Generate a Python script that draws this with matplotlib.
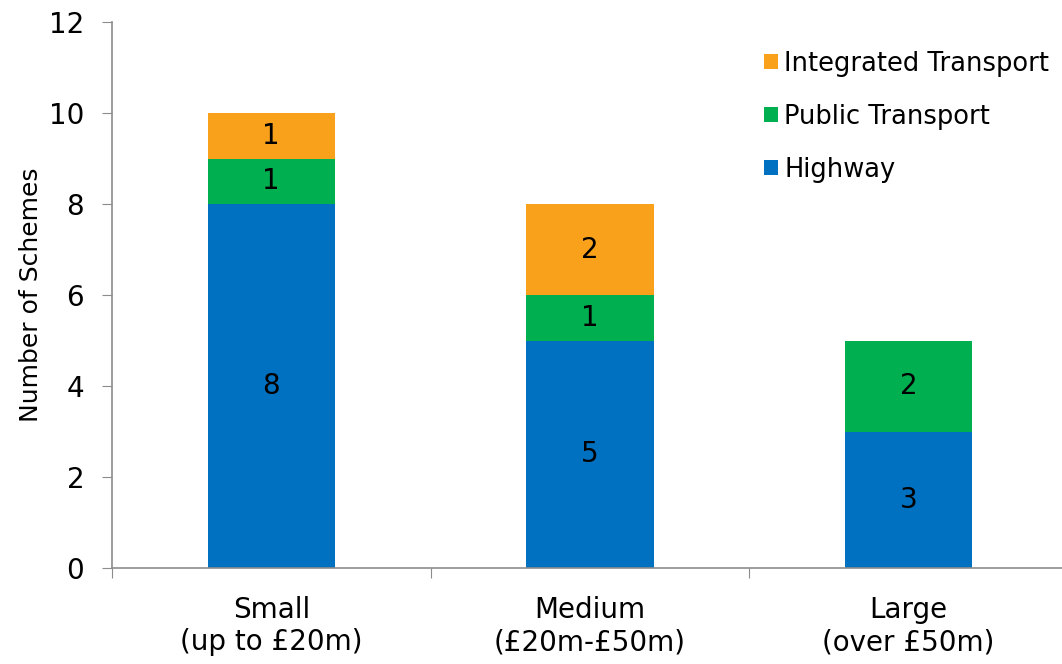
#!/usr/bin/env python3
"""Stacked bar chart: number of schemes by size band and type."""
import numpy as np
import matplotlib.pyplot as plt

OUT_PNG = "out.png"

CATEGORIES = ["Small\n(up to £20m)", "Medium\n(£20m-£50m)", "Large\n(over £50m)"]
HIGHWAY = [8, 5, 3]
PUBLIC = [1, 1, 2]
INTEGRATED = [1, 2, 0]

COLORS = {"Highway": "#0070C0", "Public Transport": "#00B050",
          "Integrated Transport": "#F9A11B"}
GRAY = "#8C8C8C"


def main():
    plt.rcParams["font.family"] = ["DejaVu Sans"]
    fig = plt.figure(figsize=(10.62, 6.64), dpi=100)
    ax = fig.add_axes([112 / 1062, 96 / 664, 0.9, 546 / 664])

    x = np.arange(len(CATEGORIES))
    w = 0.4
    hw = np.array(HIGHWAY)
    pt = np.array(PUBLIC)
    it = np.array(INTEGRATED)

    b1 = ax.bar(x, hw, w, color=COLORS["Highway"], label="Highway")
    b2 = ax.bar(x, pt, w, bottom=hw, color=COLORS["Public Transport"],
                label="Public Transport")
    b3 = ax.bar(x, it, w, bottom=hw + pt, color=COLORS["Integrated Transport"],
                label="Integrated Transport")

    # value labels in the middle of each segment
    for vals, base in [(hw, 0 * hw), (pt, hw), (it, hw + pt)]:
        for xi, v, b in zip(x, vals, base):
            if v > 0:
                ax.text(xi, b + v / 2, str(v), ha="center", va="center",
                        fontsize=20, color="black")

    ax.set_xlim(-0.5, 2.5)
    ax.set_ylim(0, 12)
    ax.set_yticks(range(0, 13, 2))
    ax.set_ylabel("Number of Schemes", fontsize=18, labelpad=4)

    # category labels as minor ticks, boundaries as major ticks
    ax.set_xticks([-0.5, 0.5, 1.5, 2.5])
    ax.set_xticklabels([])
    ax.set_xticks(x, minor=True)
    ax.set_xticklabels(CATEGORIES, minor=True, fontsize=20)
    ax.tick_params(axis="x", which="minor", length=0, pad=20)
    ax.tick_params(axis="x", which="major", length=7, color=GRAY, direction="out")
    ax.tick_params(axis="y", length=7, color=GRAY, labelsize=20, pad=13)

    for s in ["top", "right"]:
        ax.spines[s].set_visible(False)
    for s in ["left", "bottom"]:
        ax.spines[s].set_color(GRAY)
        ax.spines[s].set_linewidth(1.2)

    handles = [b3, b2, b1]
    ax.legend(handles, [h.get_label() for h in handles], loc="upper right",
              bbox_to_anchor=(1.005, 0.99), frameon=False, fontsize=18.5,
              handlelength=0.55, handleheight=0.55, handletextpad=0.25,
              labelspacing=1.05)

    fig.savefig(OUT_PNG, dpi=100)


if __name__ == "__main__":
    main()
